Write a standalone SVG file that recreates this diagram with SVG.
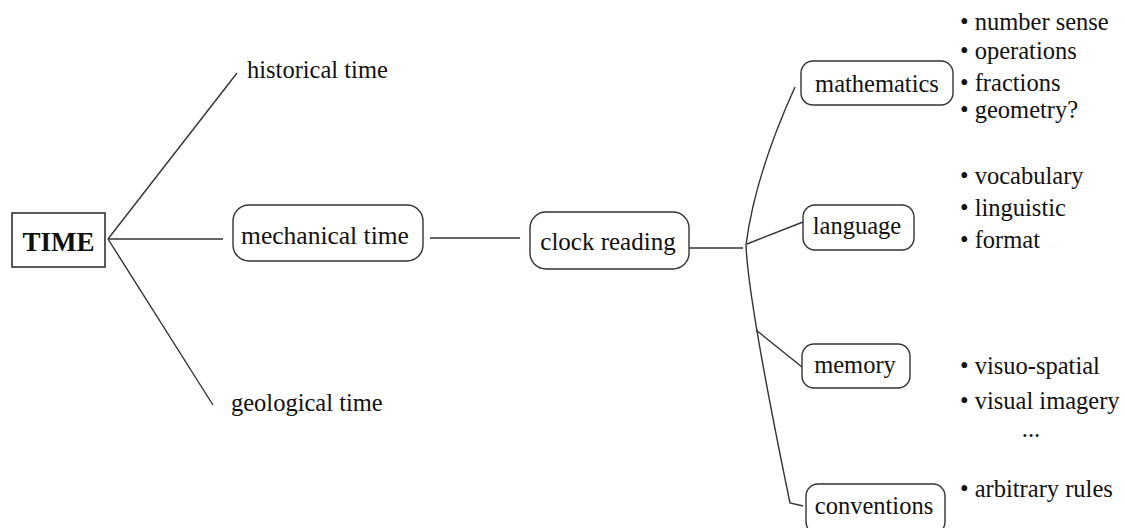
<svg xmlns="http://www.w3.org/2000/svg" width="1125" height="528" viewBox="0 0 1125 528">
<style>
  .box { fill: #ffffff; stroke: #333333; stroke-width: 1.4; }
  .lbl { font-family: "Liberation Serif", "Times New Roman", serif; fill: #111111; font-size: 24.5px; }
  .mid { text-anchor: middle; }
  .conn { fill: none; stroke: #333333; stroke-width: 1.4; }
</style>
<rect width="1125" height="528" fill="#ffffff"/>
<g id="connectors">
  <line class="conn" x1="108" y1="239" x2="237" y2="73"/>
  <line class="conn" x1="108" y1="239" x2="223" y2="239"/>
  <line class="conn" x1="108" y1="239" x2="213" y2="405"/>
  <line class="conn" x1="520" y1="238" x2="430" y2="238"/>
  <line class="conn" x1="689" y1="248" x2="743" y2="248"/>
  <path class="conn" d="M795,87 Q755,175 746,245 Q748,300 790,503 L803,506"/>
  <line class="conn" x1="747" y1="244" x2="803" y2="222"/>
  <line class="conn" x1="756" y1="330" x2="802" y2="367"/>
</g>
<g id="time">
  <rect x="12" y="213" width="93" height="54" fill="#ffffff" stroke="#333333" stroke-width="1.6"/>
  <text class="lbl mid" x="58.5" y="251" style="font-size:27px;font-weight:bold">TIME</text>
</g>
<g id="historical-time">
  <text class="lbl" x="247" y="78">historical time</text>
</g>
<g id="geological-time">
  <text class="lbl" x="231" y="411">geological time</text>
</g>
<g id="mechanical-time">
  <rect class="box" x="233" y="205" width="190" height="56" rx="16"/>
  <text class="lbl mid" x="325" y="244" style="font-size:25.5px">mechanical time</text>
</g>
<g id="clock-reading">
  <rect class="box" x="530" y="212" width="159" height="57" rx="16"/>
  <text class="lbl mid" x="608" y="250" style="font-size:25px">clock reading</text>
</g>
<g id="mathematics">
  <rect class="box" x="801" y="61" width="152" height="44" rx="12"/>
  <text class="lbl mid" x="877" y="92">mathematics</text>
</g>
<g id="language">
  <rect class="box" x="803" y="205" width="111" height="45" rx="12"/>
  <text class="lbl mid" x="857" y="234">language</text>
</g>
<g id="memory">
  <rect class="box" x="802" y="344" width="108" height="44" rx="12"/>
  <text class="lbl mid" x="855" y="373">memory</text>
</g>
<g id="conventions">
  <rect class="box" x="806" y="484" width="139" height="50" rx="12"/>
  <text class="lbl mid" x="874" y="514">conventions</text>
</g>
<g id="math-items">
  <text class="lbl" x="960" y="30">• number sense</text>
  <text class="lbl" x="960" y="59">• operations</text>
  <text class="lbl" x="960" y="91">• fractions</text>
  <text class="lbl" x="960" y="118">• geometry?</text>
</g>
<g id="language-items">
  <text class="lbl" x="960" y="184">• vocabulary</text>
  <text class="lbl" x="960" y="216">• linguistic</text>
  <text class="lbl" x="960" y="248">• format</text>
</g>
<g id="memory-items">
  <text class="lbl" x="960" y="374">• visuo-spatial</text>
  <text class="lbl" x="960" y="409">• visual imagery</text>
  <text class="lbl mid" x="1031" y="437">...</text>
</g>
<g id="convention-items">
  <text class="lbl" x="960" y="497">• arbitrary rules</text>
</g>
</svg>
